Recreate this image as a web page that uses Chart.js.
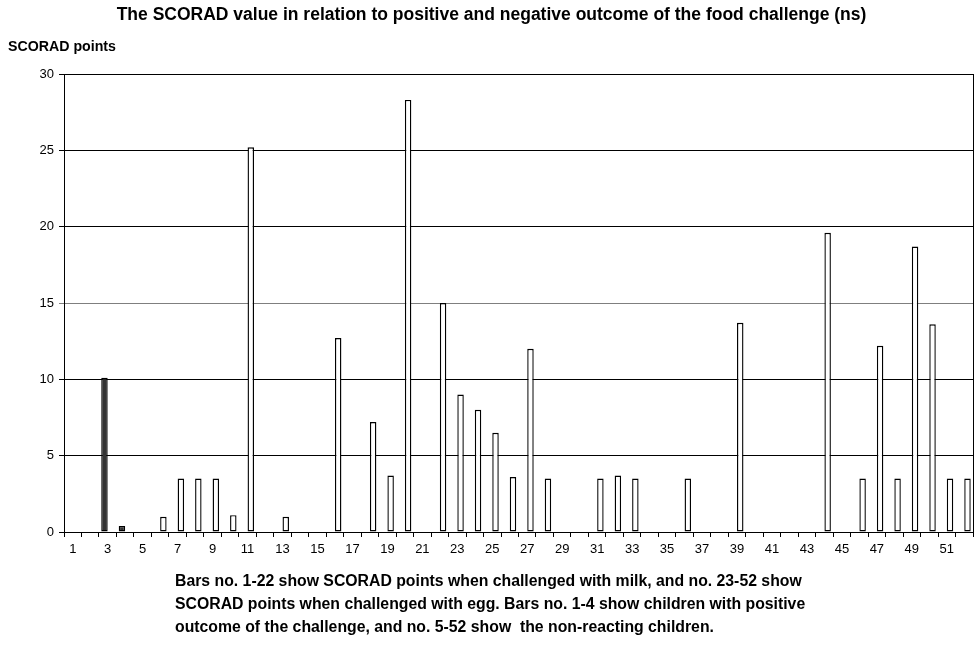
<!DOCTYPE html>
<html>
<head>
<meta charset="utf-8">
<title>SCORAD</title>
<script src="https://cdn.jsdelivr.net/npm/chart.js@4/dist/chart.umd.min.js"></script>
<style>
  body { margin: 0; background: #fff; font-family: Arial, "Liberation Sans", sans-serif; }
  #wrap { position: relative; width: 978px; height: 648px; }
  #chart { position: absolute; left: 0; top: 0; }
  .txt { position: absolute; font-weight: bold; color: #000; white-space: pre; }
  #title { top: 4px; left: 0; width: 983px; text-align: center; font-size: 17.5px; }
  #yname { top: 38px; left: 8px; font-size: 14.2px; }
  #note { top: 569px; left: 175px; font-size: 15.8px; line-height: 23px; }
</style>
</head>
<body>
<div id="wrap">
  <canvas id="chart" width="978" height="648"></canvas>
  <div class="txt" id="title">The SCORAD value in relation to positive and negative outcome of the food challenge (ns)</div>
  <div class="txt" id="yname">SCORAD points</div>
  <div class="txt" id="note">Bars no. 1-22 show SCORAD points when challenged with milk, and no. 23-52 show
SCORAD points when challenged with egg. Bars no. 1-4 show children with positive
outcome of the challenge, and no. 5-52 show  the non-reacting children.</div>
</div>
<script>
// bar numbers 1..52
const barNumbers = [
  1, 2, 3, 4, 5, 6, 7, 8, 9, 10, 11, 12, 13, 14, 15, 16, 17, 18, 19, 20,
  21, 22, 23, 24, 25, 26, 27, 28, 29, 30, 31, 32, 33, 34, 35, 36, 37, 38, 39, 40,
  41, 42, 43, 44, 45, 46, 47, 48, 49, 50, 51, 52
];

// children with a positive challenge (bars 1-4)
const positiveScores = [
  null, null, 10.1, 0.4, null, null, null, null, null, null,
  null, null, null, null, null, null, null, null, null, null,
  null, null, null, null, null, null, null, null, null, null,
  null, null, null, null, null, null, null, null, null, null,
  null, null, null, null, null, null, null, null, null, null,
  null, null
];

// non-reacting children (bars 5-52)
const negativeScores = [
  null, null, null, null, null, 1, 3.5, 3.5, 3.5, 1.1,
  25.2, null, 1, null, null, 12.7, null, 7.2, 3.7, 28.3,
  null, 15, 9, 8, 6.5, 3.6, 12, 3.5, null, null,
  3.5, 3.7, 3.5, null, null, 3.5, null, null, 13.7, null,
  null, null, null, 19.6, null, 3.5, 12.2, 3.5, 18.7, 13.6,
  3.5, 3.5
];

const yTicks = [0, 5, 10, 15, 20, 25, 30];

// right edge of the plot frame
const frameRight = {
  id: 'frameRight',
  afterDraw(chart) {
    const { ctx, chartArea } = chart;
    ctx.save();
    ctx.strokeStyle = '#000';
    ctx.lineWidth = 1;
    ctx.beginPath();
    ctx.moveTo(Math.round(chartArea.right) + 0.5, chartArea.top);
    ctx.lineTo(Math.round(chartArea.right) + 0.5, chartArea.bottom);
    ctx.stroke();
    ctx.restore();
  }
};

Chart.defaults.font.family = 'Arial, "Liberation Sans", sans-serif';
Chart.defaults.color = '#000';

const barStyle = {
  borderColor: '#000',
  borderWidth: 1.4,
  borderSkipped: false,
  categoryPercentage: 0.74,
  barPercentage: 1
};

new Chart(document.getElementById('chart'), {
  type: 'bar',
  data: {
    labels: barNumbers,
    datasets: [
      { label: 'positive', data: positiveScores, backgroundColor: '#333333', ...barStyle },
      { label: 'negative', data: negativeScores, backgroundColor: '#ffffff', ...barStyle }
    ]
  },
  options: {
    responsive: false,
    animation: false,
    layout: { padding: { top: 74, left: 34, right: 5, bottom: 86 } },
    plugins: { legend: { display: false }, tooltip: { enabled: false } },
    scales: {
      x: {
        grid: { offset: true, drawOnChartArea: false, color: '#000', tickLength: 5 },
        border: { color: '#000' },
        ticks: {
          autoSkip: false,
          maxRotation: 0,
          padding: 5,
          font: { size: 13 },
          callback: (v, i) => (i % 2 === 0 ? barNumbers[i] : '')
        },
        afterFit: s => { s.height = 30; }
      },
      y: {
        min: 0,
        max: 30,
        afterBuildTicks: s => { s.ticks = yTicks.map(v => ({ value: v })); },
        grid: {
          color: c => (c.tick && c.tick.value === 15 ? '#7f7f7f' : '#000'),
          tickLength: 5
        },
        border: { color: '#000' },
        ticks: { padding: 5, font: { size: 13 } },
        afterFit: s => { s.width = 30; }
      }
    }
  },
  plugins: [frameRight]
});
</script>
</body>
</html>
